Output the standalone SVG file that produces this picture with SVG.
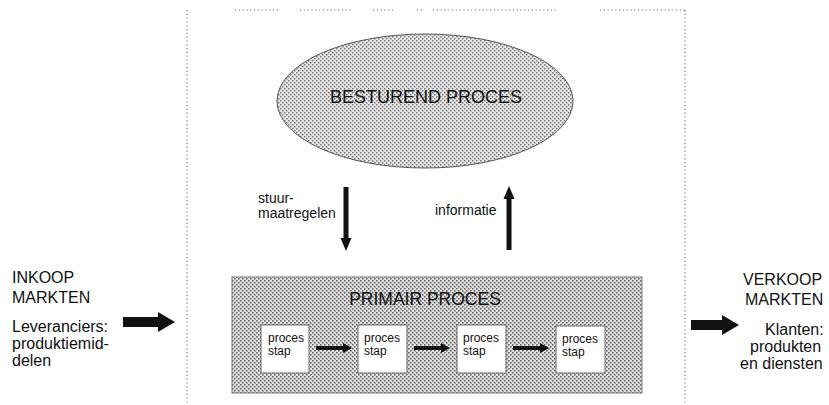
<svg xmlns="http://www.w3.org/2000/svg" width="829" height="405" viewBox="0 0 829 405">
  <defs>
    <pattern id="dots" width="4" height="4" patternUnits="userSpaceOnUse">
      <rect width="4" height="4" fill="#e6e6e6"/>
      <rect x="0" y="0" width="1.5" height="1.5" fill="#7a7a7a"/>
      <rect x="2" y="2" width="1.5" height="1.5" fill="#7a7a7a"/>
    </pattern>
    <pattern id="dots2" width="4" height="4" patternUnits="userSpaceOnUse">
      <rect width="4" height="4" fill="#e0e0e0"/>
      <rect x="0" y="0" width="1.6" height="1.6" fill="#6a6a6a"/>
      <rect x="2" y="2" width="1.6" height="1.6" fill="#6a6a6a"/>
    </pattern>
  </defs>
  <style>
    text { font-family: "Liberation Sans", Arial, sans-serif; fill: #111; }
    .big { font-size: 16px; }
    .mid { font-size: 14px; }
    .small { font-size: 12px; }
    .title { font-size: 18px; text-anchor: middle; }
    .border { stroke: #777; stroke-width: 1.2; stroke-dasharray: 1.2 2.6; fill: none; }
    .step { fill: #fff; stroke: #666; stroke-width: 1; }
    .arrow { fill: #111; }
  </style>
  <rect width="829" height="405" fill="#fff"/>

  <g id="boundary">
    <line class="border" x1="187" y1="10" x2="187" y2="405"/>
    <line class="border" x1="685" y1="10" x2="685" y2="405"/>
    <line class="border" x1="235" y1="10" x2="280" y2="10"/>
    <line class="border" x1="300" y1="10" x2="353" y2="10"/>
    <line class="border" x1="373" y1="10" x2="393" y2="10"/>
    <line class="border" x1="417" y1="10" x2="423" y2="10"/>
    <line class="border" x1="433" y1="10" x2="557" y2="10"/>
    <line class="border" x1="600" y1="10" x2="685" y2="10"/>
  </g>

  <g id="besturend">
    <ellipse cx="425" cy="101" rx="148" ry="67" fill="url(#dots)" stroke="#555" stroke-width="1"/>
    <text class="title" x="426" y="103">BESTUREND PROCES</text>
  </g>

  <g id="primair">
    <rect x="232" y="277" width="410" height="116" fill="url(#dots2)" stroke="#777" stroke-width="1"/>
    <text x="425" y="305" style="font-size:17.5px;text-anchor:middle">PRIMAIR PROCES</text>
  </g>

  <g id="stap1">
    <rect class="step" x="261" y="325" width="48" height="48"/>
    <text class="small" x="268" y="342">proces</text>
    <text class="small" x="268" y="355">stap</text>
  </g>
  <g id="stap2">
    <rect class="step" x="358" y="325" width="49" height="48"/>
    <text class="small" x="364" y="342">proces</text>
    <text class="small" x="364" y="355">stap</text>
  </g>
  <g id="stap3">
    <rect class="step" x="457" y="325" width="49" height="48"/>
    <text class="small" x="463" y="342">proces</text>
    <text class="small" x="463" y="355">stap</text>
  </g>
  <g id="stap4">
    <rect class="step" x="556" y="326" width="49" height="47"/>
    <text class="small" x="562" y="343">proces</text>
    <text class="small" x="562" y="356">stap</text>
  </g>

  <g id="inkoop">
    <text class="big" x="12" y="283">INKOOP</text>
    <text class="big" x="12" y="303">MARKTEN</text>
    <text class="big" x="12" y="332">Leveranciers:</text>
    <text class="big" x="12" y="349">produktiemid-</text>
    <text class="big" x="12" y="366">delen</text>
  </g>

  <g id="verkoop">
    <text class="big" x="743" y="285">VERKOOP</text>
    <text class="big" x="745" y="305">MARKTEN</text>
    <text class="big" x="765" y="335">Klanten:</text>
    <text class="big" x="750" y="352">produkten</text>
    <text class="big" x="740" y="369">en diensten</text>
  </g>

  <g id="connectors">
    <polygon class="arrow" points="123,317 158,317 158,312 175,322 158,332 158,327 123,327"/>
    <polygon class="arrow" points="691,320 722,320 722,315 739,325 722,335 722,330 691,330"/>
    <polygon class="arrow" points="343.5,187 348.5,187 348.5,238 351.5,238 346,251 340.5,238 343.5,238"/>
    <text class="mid" x="258" y="203">stuur-</text>
    <text class="mid" x="258" y="218">maatregelen</text>
    <polygon class="arrow" points="506.5,250 511.5,250 511.5,199 514.5,199 509,186 503.5,199 506.5,199"/>
    <text class="mid" x="435" y="215">informatie</text>
    <polygon class="arrow" points="316,346 343,346 343,343 352,348 343,353 343,350 316,350"/>
    <polygon class="arrow" points="414,346 441,346 441,343 450,348 441,353 441,350 414,350"/>
    <polygon class="arrow" points="513,346 540,346 540,343 549,348 540,353 540,350 513,350"/>
  </g>
</svg>
